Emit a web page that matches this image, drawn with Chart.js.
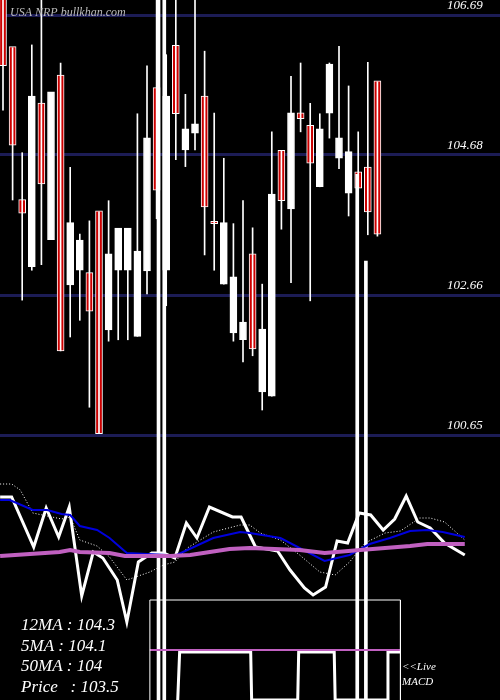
<!DOCTYPE html>
<html>
<head>
<meta charset="utf-8">
<script src="https://cdn.jsdelivr.net/npm/chart.js@4/dist/chart.umd.min.js"></script>
<style>
  html, body { margin: 0; padding: 0; background: #000; }
</style>
</head>
<body>
<canvas id="chart" width="500" height="700"></canvas>
<script>
// candles, one per session
const opens  = [107.0,106.22,104.02,103.07,105.41,103.46,105.81,102.81,103.02,102.97,103.86,102.16,103.02,103.02,102.07,103.01,105.63,103.02,106.24,104.75,104.99,105.51,103.71,102.82,102.12,102.02,103.24,101.27,101.21,104.73,103.90,105.27,105.09,104.22,105.28,104.63,104.13,104.42,104.49,105.73];
const closes = [105.96,104.82,103.84,105.51,104.26,105.57,101.86,103.69,103.44,102.43,100.67,103.24,103.61,103.61,103.28,104.91,104.17,105.51,105.27,105.04,105.11,103.93,103.69,103.69,102.91,102.26,101.89,102.16,104.10,104.02,105.27,105.20,104.56,105.04,105.97,104.91,104.71,104.20,103.86,103.54];
const highs  = [107.1,106.22,104.71,106.26,107.0,105.57,106.00,104.50,103.54,103.73,103.86,104.02,103.61,103.61,105.27,105.96,107.0,106.12,107.0,105.55,107.0,106.17,105.28,104.63,103.69,104.02,103.63,102.82,105.01,104.73,105.81,106.00,105.42,105.27,106.00,106.24,105.67,105.01,106.01,105.73];
const lows   = [105.32,104.03,102.59,103.02,103.10,103.46,101.86,102.06,102.30,101.05,100.67,102.00,102.02,102.02,102.07,102.68,103.76,102.51,104.61,104.51,104.75,103.24,103.02,102.82,102.00,101.70,101.79,101.01,101.21,103.61,102.84,105.01,102.58,104.22,104.92,104.48,103.80,104.20,103.53,103.51];

const priceTicks = [106.69, 104.68, 102.66, 100.65];

// stray spike lines: [position, low, high]
const spikes = [[16.2, 96.8, 106.95], [16.8, 96.8, 106.95], [36.9, 96.8, 104.4], [37.8, 96.8, 103.15]];

// indicator panel lines: [position, value]
const macdLine = [[-0.3,103],[0.9,103],[3.2,53],[4.5,92],[5.8,63],[6.9,93],[8.2,4],[9.4,48],[10.4,42],[11.9,20],[12.9,-22],[14.1,38],[15.5,47],[16.7,47],[17.9,42],[19.1,77],[20.2,62],[21.5,93],[23.9,83],[24.8,83],[25.7,65],[26.3,53],[28.6,49],[29.9,30],[31.4,12],[32.3,5],[33.6,13],[34.8,59],[35.9,57],[37.1,87],[38.3,85],[39.6,70],[40.8,81],[42.0,104],[43.2,78],[44.5,72],[46.0,57],[48.1,45]];
const blueLine = [[-0.3,100],[0.7,100],[3.1,90],[4.6,90],[6.1,86],[7.0,85],[8.0,74],[9.8,70],[11.1,62],[12.9,47],[17.1,45],[18.1,45],[19.2,50],[21.9,62],[24.7,68],[25.7,67],[28.9,62],[33.5,39],[36.1,45],[38.2,56],[40.3,62],[42.4,69],[44.2,70],[45.8,68],[48.1,63]];
const pinkLine = [[-0.3,44],[5.9,48],[7.0,50],[8.0,48],[11.1,47],[12.7,44],[17.4,44],[19.5,45],[23.6,51],[25.7,52],[30.9,50],[33.5,47],[37.2,50],[42.4,54],[44.2,56],[48.1,56]];
const dotLine = [[-0.3,116],[0.9,116],[1.8,110],[3.1,87],[4.6,84],[6.1,81],[7.0,83],[8.0,60],[9.8,54],[11.1,43],[12.9,20],[15.3,28],[16.7,35],[17.9,38],[19.2,52],[21.9,68],[24.7,75],[25.7,75],[26.8,67],[28.9,60],[30.9,45],[33.0,28],[34.6,25],[36.1,38],[37.7,57],[39.8,67],[41.4,69],[43.4,82],[44.5,82],[46.0,78],[48.1,60]];
const stepLine = [[18.2,-100],[18.4,-52],[25.8,-52],[25.9,-100],[30.7,-100],[30.8,-52],[34.5,-52],[34.6,-100],[40.0,-100],[40.1,-52],[41.4,-52]];
const boxLeft = 15.3, boxRight = 41.4;

const maLabels = ['12MA : 104.3', '5MA : 104.1', '50MA : 104', 'Price   : 103.5'];

const idx = opens.map((_, i) => i);
const pts = arr => arr.map(p => ({ x: p[0], y: p[1] }));
const bodyColors = opens.map((o, i) => closes[i] < o ? '#cc0000' : '#ffffff');

const textPlugin = {
  id: 'texts',
  afterDraw(chart) {
    const ctx = chart.ctx;
    const y = chart.scales.y;
    ctx.save();
    ctx.fillStyle = '#ffffff';
    ctx.font = 'italic 13px "Liberation Serif"';
    ctx.textAlign = 'left';
    priceTicks.forEach(t => ctx.fillText(t.toFixed(2), 447, y.getPixelForValue(t) - 6));
    ctx.fillStyle = '#bbbbbb';
    ctx.font = 'italic 12px "Liberation Serif"';
    ctx.fillText('USA NRP bullkhan.com', 10, 16);
    ctx.fillStyle = '#ffffff';
    ctx.font = 'italic 17px "Liberation Serif"';
    maLabels.forEach((s, i) => ctx.fillText(s, 21, 630 + i * 20.5));
    ctx.font = 'italic 11px "Liberation Serif"';
    ctx.fillText('<<Live', 402, 670);
    ctx.fillText('MACD', 402, 685);
    ctx.restore();
  }
};

const common = { pointRadius: 0, tension: 0, yAxisID: 'y2', type: 'line', fill: false };

new Chart(document.getElementById('chart'), {
  type: 'bar',
  data: {
    datasets: [
      { label: 'box', ...common, data: [{x: boxLeft, y: -101}, {x: boxLeft, y: 0}, {x: boxRight, y: 0}, {x: boxRight, y: -101}], borderColor: '#ffffff', borderWidth: 1 },
      { label: 'zero', ...common, data: [{x: boxLeft, y: -50}, {x: boxRight, y: -50}], borderColor: '#c060c0', borderWidth: 2 },
      { label: 'step', ...common, data: pts(stepLine), borderColor: '#ffffff', borderWidth: 3 },
      { label: 'pink', ...common, data: pts(pinkLine), borderColor: '#c060c0', borderWidth: 4 },
      { label: 'blue', ...common, data: pts(blueLine), borderColor: '#0000dd', borderWidth: 2 },
      { label: 'dot', ...common, data: pts(dotLine), borderColor: '#ffffff', borderWidth: 1, borderDash: [1, 2] },
      { label: 'macd', ...common, data: pts(macdLine), borderColor: '#ffffff', borderWidth: 3 },
      { label: 'spikes', data: spikes.map(s => ({ x: s[0], y: [s[1], s[2]] })), backgroundColor: '#ffffff', barThickness: 3, grouped: false },
      { label: 'wicks', data: idx.map(i => ({ x: i, y: [lows[i], highs[i]] })), backgroundColor: '#ffffff', barThickness: 1, grouped: false },
      { label: 'bodies', data: idx.map(i => ({ x: i, y: [Math.min(opens[i], closes[i]), Math.max(opens[i], closes[i]) + 0.015] })),
        backgroundColor: bodyColors, borderColor: '#ffffff', borderWidth: 1, borderSkipped: false, barThickness: 7, grouped: false }
    ]
  },
  options: {
    responsive: false,
    animation: false,
    maintainAspectRatio: false,
    layout: { padding: 0 },
    plugins: { legend: { display: false }, tooltip: { enabled: false } },
    scales: {
      x: { type: 'linear', min: -0.3125, max: 51.77, offset: false, display: false },
      y: {
        min: 96.84, max: 106.906, display: true,
        afterBuildTicks: s => { s.ticks = priceTicks.map(v => ({ value: v })); },
        ticks: { display: false },
        grid: { color: '#1c1c55', lineWidth: 3, drawTicks: false },
        border: { display: false }
      },
      y2: { min: -100, max: 600, display: false }
    }
  },
  plugins: [textPlugin, {
    id: 'bg',
    beforeDraw(c) { c.ctx.save(); c.ctx.fillStyle = '#000'; c.ctx.fillRect(0, 0, c.width, c.height); c.ctx.restore(); }
  }]
});
</script>
</body>
</html>
